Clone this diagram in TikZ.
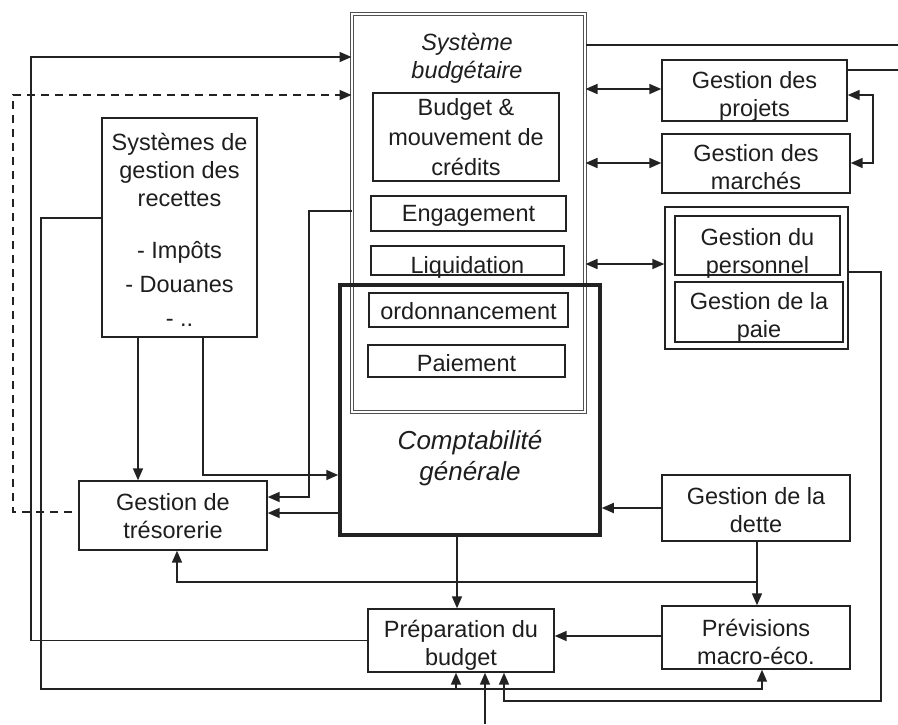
\documentclass[tikz,border=0pt]{standalone}
\usepackage{fontspec}
\setmainfont{Liberation Sans}
\usetikzlibrary{arrows.meta,calc}
\definecolor{linec}{HTML}{222222}
\definecolor{textc}{HTML}{1E1E1E}
\definecolor{dblc}{HTML}{505050}
\begin{document}
\begin{tikzpicture}[x=1pt,y=-1pt,
  box/.style={draw=linec, line width=1.4pt, rectangle, inner sep=0pt},
  txt/.style={align=center, text=textc, inner sep=0pt, font=\fontsize{23.5}{28}\selectfont},
  ital/.style={align=center, text=textc, inner sep=0pt},
  tip/.tip={Triangle[length=12pt,width=10pt]},
  arr/.style={draw=linec, line width=1.7pt, -tip},
  arrb/.style={draw=linec, line width=1.7pt, tip-tip},
  ln/.style={draw=linec, line width=1.7pt},
  dashln/.style={draw=linec, line width=1.7pt, dash pattern=on 8pt off 6pt, -tip}
]
\useasboundingbox[fill=white] (0,0) rectangle (898,724);

% Systeme budgetaire
\node[box, draw=dblc, line width=1pt, double, double distance=2.2pt,
      minimum width=233pt, minimum height=398pt] (sysb) at (468.5,213) {};
\node[ital, font=\itshape\fontsize{23.5}{28}\selectfont] (sbtitle) at (467,58) {Système\\budgétaire};
\node[box, minimum width=186pt, minimum height=88pt] (budg) at (466,137) {};
\node[txt, font=\fontsize{23.5}{30}\selectfont] (budgT) at (budg.center) {Budget \&\\mouvement de\\crédits};
\node[box, minimum width=195pt, minimum height=35pt] (eng) at (468.5,213.5) {};
\node[txt] (engT) at ([yshift=-2pt]eng.center) {Engagement};
\node[box, minimum width=193pt, minimum height=29pt] (liq) at (467.5,260.5) {};
\node[txt] (liqT) at ([yshift=-7pt]liq.center) {Liquidation};
\node[box, minimum width=199pt, minimum height=34pt] (ord) at (468.5,310) {};
\node[txt] (ordT) at ([yshift=-1pt]ord.center) {ordonnancement};
\node[box, minimum width=197pt, minimum height=32pt] (pai) at (466.5,361) {};
\node[txt] (paiT) at ([yshift=-2pt]pai.center) {Paiement};

% Comptabilite generale
\node[box, line width=3.5pt, minimum width=260pt, minimum height=250pt] (compta) at (470,410) {};
\node[ital, font=\itshape\fontsize{26}{31}\selectfont] (ctxt) at (470,458) {Comptabilité\\générale};

% right column
\node[box, minimum width=185pt, minimum height=61pt] (proj) at (754.5,90.5) {};
\node[txt] (projT) at ([yshift=-6pt]proj.center) {Gestion des\\projets};
\node[box, minimum width=188pt, minimum height=59pt] (march) at (756,163.5) {};
\node[txt] (marchT) at ([yshift=-4pt]march.center) {Gestion des\\marchés};
\node[box, minimum width=183pt, minimum height=142pt] (pers) at (756.5,278) {};
\node[box, minimum width=165pt, minimum height=59pt] (gpers) at (757.5,245.5) {};
\node[txt] (gpersT) at ([yshift=-8pt]gpers.center) {Gestion du\\personnel};
\node[box, minimum width=168pt, minimum height=60pt] (paie) at (759,312) {};
\node[txt] (paieT) at ([yshift=-5pt]paie.center) {Gestion de la\\paie};
\node[box, minimum width=188pt, minimum height=66pt] (dette) at (756,508) {};
\node[txt] (detteT) at ([yshift=-2pt]dette.center) {Gestion de la\\dette};
\node[box, minimum width=188pt, minimum height=63pt] (prev) at (756,637.5) {};
\node[txt] (prevT) at ([yshift=-4pt]prev.center) {Prévisions\\macro-éco.};

% left / bottom
\node[box, minimum width=186pt, minimum height=63pt] (prep) at (461,640.5) {};
\node[txt] (prepT) at ([yshift=-5pt]prep.center) {Préparation du\\budget};
\node[box, minimum width=188pt, minimum height=69pt] (tres) at (173,515.5) {};
\node[txt] (tresT) at ([yshift=-1pt]tres.center) {Gestion de\\trésorerie};
\node[box, minimum width=155pt, minimum height=219pt] (rec) at (179.5,227.5) {};
\node[txt] (recT) at ([yshift=-2pt]rec.center)
  {Systèmes de\\gestion des\\recettes\\[24pt]- Impôts\\[6pt]- Douanes\\[6pt]- ..};

% free ends
\coordinate (outA) at (898,45);
\coordinate (outB) at (898,70);
\coordinate (ext) at (485,724);
\coordinate (dstart) at (72,512);

% connectors
\draw[arr] (prep.west) -| (31,57) -- (sysb.west |- 0,57);
\draw[dashln] (dstart) -| (13,95) -- (sysb.west |- 0,95);
\draw[arr] (rec.west |- 0,218) -| (41,689) -| (prev.south -| 762,0);
\draw[arr] (456,689) -- (prep.south -| 456,0);
\draw[arr] (pers.east |- 0,272) -| (881,701) -| (prep.south -| 504,0);
\draw[arr] (ext) -- (prep.south -| ext);
\draw[ln] (sysb.east |- outA) -- (outA);
\draw[ln] (proj.east |- outB) -- (outB);
\draw[arrb] (sysb.east |- 0,89) -- (proj.west |- 0,89);
\draw[arrb] (sysb.east |- 0,163) -- (march.west |- 0,163);
\draw[arrb] (sysb.east |- 0,264) -- (pers.west |- 0,264);
\draw[arrb] (proj.east |- 0,95) -| (873,163) -- (march.east |- 0,163);
\draw[arr] (rec.south -| 138,0) -- (tres.north -| 138,0);
\draw[arr] (rec.south -| 203,0) |- (compta.west |- 0,475);
\draw[arr] (sysb.west |- 0,211) -| (309,497) -- (tres.east |- 0,497);
\draw[arr] (compta.west |- 0,513) -- (tres.east |- 0,513);
\draw[arr] (dette.west) -- (compta.east |- dette.west);
\draw[arr] (compta.south -| 457,0) -- (prep.north -| 457,0);
\draw[arr] (dette.south -| 757,0) -- (prev.north -| 757,0);
\draw[arr] (757,582) -| (tres.south -| 177,0);
\draw[arr] (prev.west |- 0,636) -- (prep.east |- 0,636);
\end{tikzpicture}
\end{document}
